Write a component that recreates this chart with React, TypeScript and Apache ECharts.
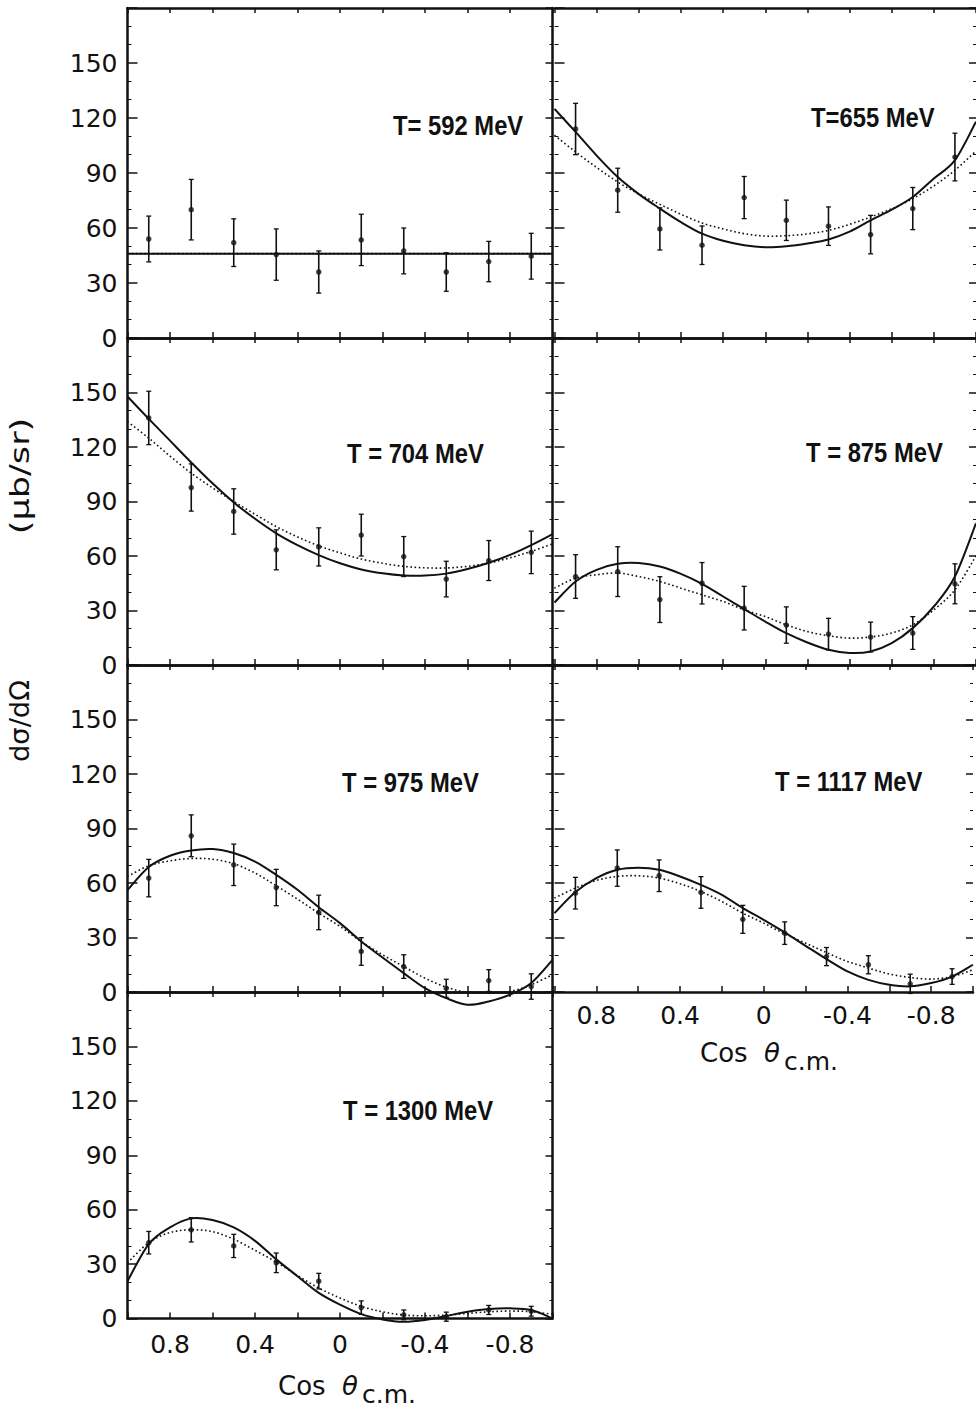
import React, { useEffect, useRef } from 'react';
import * as echarts from 'echarts';

// ---------- data ----------
const pointCos = [0.9, 0.7, 0.5, 0.3, 0.1, -0.1, -0.3, -0.5, -0.7, -0.9];
const curveCos = [1, 0.9, 0.8, 0.7, 0.6, 0.5, 0.4, 0.3, 0.2, 0.1, 0, -0.1, -0.2, -0.3, -0.4, -0.5, -0.6, -0.7, -0.8, -0.9, -1];
const yTickValues = [0, 30, 60, 90, 120, 150];
const yTickLabels = ['0', '30', '60', '90', '120', '150'];
const xTickValues = [0.8, 0.4, 0, -0.4, -0.8];
const xTickLabels = ['0.8', '0.4', '0', '-0.4', '-0.8'];

// T = 592 MeV
const t592Values = [54, 70, 52, 45.5, 36, 53.5, 47.5, 36, 41.7, 44.6];
const t592Errors = [12.5, 16.5, 13, 14, 11.5, 14, 12.5, 10.5, 11, 12.5];
const t592FitCos = [1, -1];
const t592Solid = [46, 46];
const t592Dotted = [46, 46];

// T = 655 MeV
const t655Values = [114, 80.6, 59.5, 50.6, 76.6, 64.2, 61, 56.4, 70.6, 98.7];
const t655Errors = [14, 12, 11.5, 10.5, 11.5, 11, 10.5, 10.5, 11.5, 13];
const t655Solid = [125, 112.4, 99.5, 87.8, 78.5, 70.6, 63.2, 56.9, 53, 50.6, 49.5, 50, 51.5, 53.7, 58, 64.2, 70, 76.9, 87, 97, 118];
const t655Dotted = [110.6, 101.5, 93, 85.1, 78.5, 72.9, 67.5, 62.7, 59.5, 56.9, 55.6, 55.8, 56.8, 58.7, 62, 66, 70.5, 76, 83, 91.5, 102];

// T = 704 MeV
const t704Values = [136, 97.7, 84.5, 63.4, 65, 71.5, 59.7, 47.3, 57.5, 62];
const t704Errors = [14.7, 13, 12.5, 11, 10.5, 11.5, 11, 9.8, 11, 11.7];
const t704Solid = [147.8, 135.5, 123.5, 111.5, 100, 89.5, 80.5, 72.5, 66, 60.5, 56, 52.6, 50.5, 49.3, 49.2, 50.3, 52.8, 56.3, 60.6, 66, 72];
const t704Dotted = [134, 124.9, 115, 105.6, 97.5, 90, 83, 76.2, 70.5, 65.6, 61.7, 58.3, 56, 54.3, 53.5, 53.4, 54.3, 56.1, 59, 62.5, 66.7];

// T = 875 MeV
const t875Values = [48.7, 51.4, 36, 45, 31.3, 22, 17, 15.4, 17.6, 44.7];
const t875Errors = [12, 13.7, 12.6, 11.4, 12, 10, 8.7, 8.2, 9, 11];
const t875Solid = [34.4, 46, 52.4, 55.7, 56.1, 54.2, 50.2, 44.7, 37.7, 30.8, 23.9, 17.5, 12.4, 8.4, 6.6, 7.4, 12, 20.3, 32.2, 48.7, 78];
const t875Dotted = [42.3, 47.8, 49.7, 50.6, 48.7, 46, 42.3, 38.6, 35, 30.4, 26.7, 22.1, 18.4, 16.1, 14.8, 15.4, 17.6, 22.1, 30.4, 41.4, 60];

// T = 975 MeV
const t975Values = [62.7, 86, 70, 57.5, 43.8, 22.3, 14, 2, 6.3, 3];
const t975Errors = [10.3, 11.5, 11.4, 10, 9.5, 7.6, 6.5, 5, 6, 7];
const t975Solid = [56.1, 68.8, 75, 77.9, 78.7, 76.5, 71.8, 64.5, 56.3, 46.7, 37.9, 27.8, 19, 10.4, 2.1, -3.4, -7, -5.2, -1.5, 5, 17.7];
const t975Dotted = [63.6, 69.5, 72.2, 73.5, 73.1, 70.6, 65.5, 58.5, 51.1, 43.4, 36.1, 27.8, 20.5, 14, 7.6, 2.7, -0.3, -0.6, 0.3, 4, 9.5];

// T = 1117 MeV
const t1117Values = [54.4, 68.2, 64, 54.8, 40, 32.4, 19.5, 15, 4.5, 8.5];
const t1117Errors = [8.7, 10, 8.7, 8.7, 7.7, 6.2, 5, 5, 5.3, 4.3];
const t1117Solid = [43.4, 55, 62.7, 67.3, 68.4, 67.3, 63.6, 59, 53.5, 46.2, 39.7, 32.8, 25.4, 18.1, 11.3, 6.7, 4, 3.1, 4.9, 8.5, 15];
const t1117Dotted = [51.7, 57.2, 61.4, 63.6, 64, 62.7, 59.6, 55.3, 49.8, 43.4, 37.9, 32, 26.9, 21.7, 16.8, 13.2, 9.9, 8, 7.1, 8.5, 12.2];

// T = 1300 MeV
const t1300Values = [41.8, 48.9, 40, 30.7, 20.6, 6, 2, 1, 4.7, 4];
const t1300Errors = [6.2, 6.7, 6.4, 5.4, 4.3, 3.7, 2.7, 2.5, 2.5, 2.7];
const t1300Solid = [20.6, 41, 50.2, 55.2, 54.3, 50.2, 42.8, 32.6, 23.3, 14.1, 7.6, 2.4, -0.5, -1.8, -0.8, 1.4, 3.7, 5.2, 5.6, 4.7, 0.1];
const t1300Dotted = [30.7, 41.8, 47.4, 48.9, 47.9, 43.7, 37.6, 31.1, 23.7, 16.8, 11.3, 6.7, 3.7, 1.9, 1.5, 1.9, 2.8, 3.7, 4.1, 3.7, 2.3];

const panelLabels = ['T= 592 MeV', 'T=655 MeV', 'T = 704 MeV', 'T = 875 MeV', 'T = 975 MeV', 'T = 1117 MeV', 'T = 1300 MeV'];

// ---------- layout ----------
const INK = '#111111';
const NUM_FONT = "'DejaVu Sans', 'Liberation Sans', sans-serif";
const LBL_FONT = "'Liberation Sans', Arial, sans-serif";
const colLeft = [127.5, 554.5];
const colWidth = 425;
const rowTop = [8, 338, 665, 992];
const rowBottom = [338, 665, 992, 1318.5];
const labelPos = [
  [393, 125], [811, 117.5], [347, 453], [806, 452], [342, 782], [775, 781], [343, 1110],
];

const panels = [
  { col: 0, row: 0, values: t592Values, errors: t592Errors, fitCos: t592FitCos, solid: t592Solid, dotted: t592Dotted, showX: false },
  { col: 1, row: 0, values: t655Values, errors: t655Errors, fitCos: curveCos, solid: t655Solid, dotted: t655Dotted, showX: false },
  { col: 0, row: 1, values: t704Values, errors: t704Errors, fitCos: curveCos, solid: t704Solid, dotted: t704Dotted, showX: false },
  { col: 1, row: 1, values: t875Values, errors: t875Errors, fitCos: curveCos, solid: t875Solid, dotted: t875Dotted, showX: false },
  { col: 0, row: 2, values: t975Values, errors: t975Errors, fitCos: curveCos, solid: t975Solid, dotted: t975Dotted, showX: false },
  { col: 1, row: 2, values: t1117Values, errors: t1117Errors, fitCos: curveCos, solid: t1117Solid, dotted: t1117Dotted, showX: true },
  { col: 0, row: 3, values: t1300Values, errors: t1300Errors, fitCos: curveCos, solid: t1300Solid, dotted: t1300Dotted, showX: true },
];

function xLabel(v: number): string {
  const i = xTickValues.findIndex((t) => Math.abs(t - v) < 1e-6);
  return i >= 0 ? xTickLabels[i] : '';
}
function yLabel(v: number): string {
  const i = yTickValues.findIndex((t) => Math.abs(t - v) < 1e-6);
  return i >= 0 ? yTickLabels[i] : '';
}

// smooth curve through the data points (Catmull-Rom), positioned by the axes
function curveSeries(axisIndex: number, cosArr: number[], valArr: number[], dotted: boolean) {
  return {
    type: 'custom', xAxisIndex: axisIndex, yAxisIndex: axisIndex, clip: false, silent: true, z: 3,
    data: cosArr.map((c, k) => [c, valArr[k]]),
    encode: { x: 0, y: 1 },
    renderItem: (params: any, api: any) => {
      if (params.dataIndex !== 0) return null;
      const pts = cosArr.map((c, k) => api.coord([c, valArr[k]]));
      let d = `M${pts[0][0]},${pts[0][1]}`;
      for (let i = 0; i < pts.length - 1; i++) {
        const p0 = pts[i - 1] || pts[i];
        const p1 = pts[i];
        const p2 = pts[i + 1];
        const p3 = pts[i + 2] || pts[i + 1];
        const c1x = p1[0] + (p2[0] - p0[0]) / 6;
        const c1y = p1[1] + (p2[1] - p0[1]) / 6;
        const c2x = p2[0] - (p3[0] - p1[0]) / 6;
        const c2y = p2[1] - (p3[1] - p1[1]) / 6;
        d += ` C${c1x},${c1y} ${c2x},${c2y} ${p2[0]},${p2[1]}`;
      }
      return {
        type: 'path',
        shape: { pathData: d },
        style: dotted
          ? { stroke: INK, lineWidth: 1.6, fill: 'none', lineDash: [1.6, 2.6] }
          : { stroke: INK, lineWidth: 2, fill: 'none' },
      };
    },
  };
}

function buildOption() {
  const grid: any[] = [];
  const xAxis: any[] = [];
  const yAxis: any[] = [];
  const series: any[] = [];
  const graphic: any[] = [];

  panels.forEach((p, i) => {
    const top = rowTop[p.row];
    const h = rowBottom[p.row] - top;
    grid.push({ left: colLeft[p.col], top, width: colWidth, height: h, containLabel: false, show: false });

    const lineStyle = { color: INK, width: 2.5 };
    xAxis.push({
      type: 'value', gridIndex: i, min: -1, max: 1, interval: 0.2, inverse: true, position: 'bottom',
      axisLine: { show: true, onZero: false, lineStyle },
      axisTick: { show: true, inside: true, length: 6, lineStyle: { color: INK, width: 1.5 } },
      axisLabel: {
        show: p.showX, formatter: xLabel, color: INK, fontSize: 25, fontFamily: NUM_FONT,
        margin: p.col === 0 ? 13 : 11, showMinLabel: true, showMaxLabel: true,
      },
      splitLine: { show: false },
    });
    xAxis.push({
      type: 'value', gridIndex: i, min: -1, max: 1, interval: 0.2, inverse: true, position: 'top',
      axisLine: { show: true, onZero: false, lineStyle },
      axisTick: { show: true, inside: true, length: 5, lineStyle: { color: INK, width: 1.5 } },
      axisLabel: { show: false },
      splitLine: { show: false },
    });
    yAxis.push({
      type: 'value', gridIndex: i, min: 0, max: 180, interval: 30, position: 'left',
      axisLine: { show: p.col === 0, onZero: false, lineStyle },
      axisTick: { show: true, inside: true, length: 10, lineStyle: { color: INK, width: 1.5 } },
      minorTick: { show: true, splitNumber: 3, length: 4, lineStyle: { color: INK, width: 1 } },
      axisLabel: { show: p.col === 0, formatter: yLabel, color: INK, fontSize: 25, fontFamily: NUM_FONT, margin: 10 },
      splitLine: { show: false },
    });
    yAxis.push({
      type: 'value', gridIndex: i, min: 0, max: 180, interval: 30, position: 'right',
      axisLine: { show: p.col === 0, onZero: false, lineStyle },
      axisTick: { show: true, inside: true, length: 7, lineStyle: { color: INK, width: 1.5 } },
      minorTick: { show: true, splitNumber: 3, length: 3, lineStyle: { color: INK, width: 1 } },
      axisLabel: { show: false },
      splitLine: { show: false },
    });

    const xi = 2 * i;
    series.push(curveSeries(xi, p.fitCos, p.solid, false));
    series.push(curveSeries(xi, p.fitCos, p.dotted, true));
    series.push({
      type: 'custom', xAxisIndex: xi, yAxisIndex: xi, clip: false, silent: true, z: 4,
      data: pointCos.map((c, k) => [c, p.values[k], p.errors[k]]),
      encode: { x: 0, y: 1 },
      renderItem: (params: any, api: any) => {
        const x = api.value(0);
        const y = api.value(1);
        const e = api.value(2);
        const a = api.coord([x, y + e]);
        const b = api.coord([x, y - e]);
        return {
          type: 'group',
          children: [
            { type: 'line', shape: { x1: a[0], y1: a[1], x2: b[0], y2: b[1] }, style: { stroke: INK, lineWidth: 1.6 } },
            { type: 'line', shape: { x1: a[0] - 2.5, y1: a[1], x2: a[0] + 2.5, y2: a[1] }, style: { stroke: INK, lineWidth: 1.3 } },
            { type: 'line', shape: { x1: b[0] - 2.5, y1: b[1], x2: b[0] + 2.5, y2: b[1] }, style: { stroke: INK, lineWidth: 1.3 } },
          ],
        };
      },
    });
    series.push({
      type: 'scatter', xAxisIndex: xi, yAxisIndex: xi, symbol: 'circle', symbolSize: 5.5, z: 5,
      itemStyle: { color: INK }, data: pointCos.map((c, k) => [c, p.values[k]]), silent: true,
    });

    const [lx, ly] = labelPos[i];
    graphic.push({
      type: 'text', x: lx, y: ly, scaleX: 0.85, z: 10, silent: true,
      style: {
        text: panelLabels[i], fill: INK, fontSize: 28, fontWeight: 'bold', fontFamily: LBL_FONT,
        align: 'left', verticalAlign: 'middle', textAlign: 'left', textVerticalAlign: 'middle',
      },
    });
  });

  const txt = (text: string, x: number, y: number, size: number, italic = false) => ({
    type: 'text', x, y, z: 10, silent: true,
    style: {
      text, fill: INK, fontSize: size, fontFamily: NUM_FONT, fontStyle: italic ? 'italic' : 'normal',
      align: 'left', verticalAlign: 'middle', textAlign: 'left', textVerticalAlign: 'middle',
    },
  });

  // x-axis names
  graphic.push(txt('Cos', 278, 1386, 26));
  graphic.push(txt('θ', 342, 1386, 26, true));
  graphic.push(txt('c.m.', 362, 1394, 25));
  graphic.push(txt('Cos', 700, 1053, 26));
  graphic.push(txt('θ', 764, 1053, 26, true));
  graphic.push(txt('c.m.', 784, 1061, 25));

  // y-axis name (rotated)
  graphic.push({
    type: 'text', x: 20, y: 476, rotation: Math.PI / 2, scaleX: 1.35, z: 10, silent: true,
    style: {
      text: '(μb/sr)', fill: INK, fontSize: 26, fontFamily: NUM_FONT,
      align: 'center', verticalAlign: 'middle', textAlign: 'center', textVerticalAlign: 'middle',
    },
  });
  graphic.push({
    type: 'text', x: 20, y: 721, rotation: Math.PI / 2, scaleX: 1.05, z: 10, silent: true,
    style: {
      text: 'dσ/dΩ', fill: INK, fontSize: 26, fontFamily: NUM_FONT,
      align: 'center', verticalAlign: 'middle', textAlign: 'center', textVerticalAlign: 'middle',
    },
  });

  return {
    animation: false,
    backgroundColor: '#ffffff',
    grid, xAxis, yAxis, series, graphic,
  };
}

export default function App() {
  const ref = useRef<HTMLDivElement>(null);
  useEffect(() => {
    if (!ref.current) return;
    const chart = echarts.init(ref.current, undefined, { renderer: 'svg' });
    chart.setOption(buildOption() as any);
    return () => chart.dispose();
  }, []);
  return (
    <div
      ref={ref}
      style={{ position: 'absolute', left: 0, top: 0, width: 976, height: 1412, background: '#fff' }}
    />
  );
}
